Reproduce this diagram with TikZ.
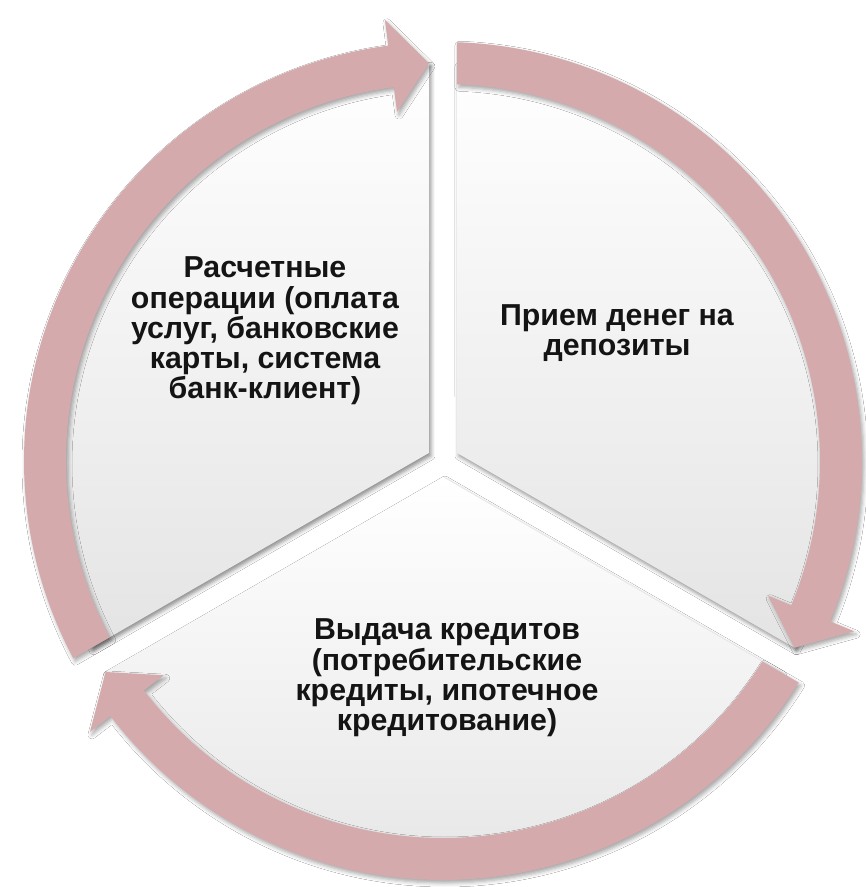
\documentclass[tikz,border=0pt]{standalone}
\usepackage{fontspec}
\setmainfont{Liberation Sans}
\usetikzlibrary{shadows.blur}
\definecolor{ringc}{RGB}{212,170,173}
\definecolor{secgray}{RGB}{228,228,228}
\definecolor{txt}{RGB}{20,20,20}
\tikzset{
  sector/.style={top color=white, bottom color=secgray, draw=none,
    blur shadow={shadow xshift=2pt, shadow yshift=-3pt, shadow blur radius=4pt, shadow opacity=45}},
  ringarrow/.style={fill=ringc, draw=none,
    blur shadow={shadow xshift=2pt, shadow yshift=-3pt, shadow blur radius=4pt, shadow opacity=35}},
  lbl/.style={align=center, text=txt, font=\fontsize{30.3}{30.2}\selectfont\bfseries}
}
\begin{document}
\begin{tikzpicture}[x=1pt,y=1pt]
\useasboundingbox (-443,-426) rectangle (423,461);
\fill[white] (-443,-426) rectangle (423,461);
% sectors
\path[sector] (30:16.17) -- (87.984:398) arc[start angle=87.984, end angle=-27.984, radius=398] -- cycle;
\path[sector] (-90:16.17) -- (-32.016:398) arc[start angle=-32.016, end angle=-147.984, radius=398] -- cycle;
\path[sector] (150:16.17) -- (207.984:398) arc[start angle=207.984, end angle=92.016, radius=398] -- cycle;
% ring arrows
\path[ringarrow] (208.085:419) arc[start angle=208.085, end angle=97.5, radius=419]
  -- (97.5:445) -- (92.016:398) -- (97.5:352) -- (97.5:377)
  arc[start angle=97.5, end angle=207.872, radius=377] -- cycle;
\path[ringarrow] (88.085:419) arc[start angle=88.085, end angle=-22.5, radius=419]
  -- (-22.5:445) -- (-27.984:398) -- (-22.5:352) -- (-22.5:377)
  arc[start angle=-22.5, end angle=87.872, radius=377] -- cycle;
\path[ringarrow] (-31.915:419) arc[start angle=-31.915, end angle=-142.5, radius=419]
  -- (-142.5:445) -- (-147.984:398) -- (-142.5:352) -- (-142.5:377)
  arc[start angle=-142.5, end angle=-32.128, radius=377] -- cycle;
% labels
\node[lbl] (t1) at (-178,130) {Расчетные\\операции (оплата\\услуг, банковские\\карты, система\\банк-клиент)};
\node[lbl] (t2) at (174,128) {Прием денег на\\депозиты};
\node[lbl] (t3) at (4,-217) {Выдача кредитов\\(потребительские\\кредиты, ипотечное\\кредитование)};
\end{tikzpicture}
\end{document}
